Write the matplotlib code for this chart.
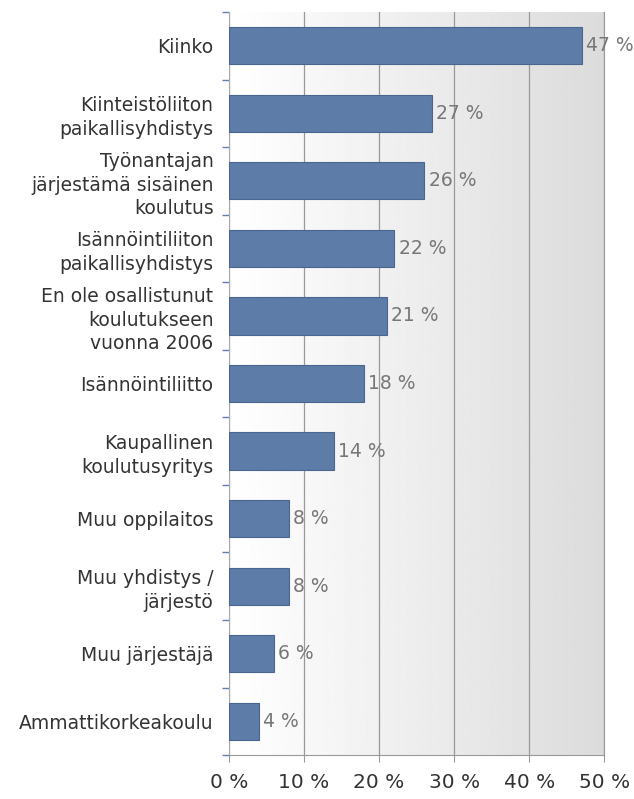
import numpy as np
import matplotlib.pyplot as plt

categories = ["Kiinko",
              "Kiinteistöliiton\npaikallisyhdistys",
              "Työnantajan\njärjestämä sisäinen\nkoulutus",
              "Isännöintiliiton\npaikallisyhdistys",
              "En ole osallistunut\nkoulutukseen\nvuonna 2006",
              "Isännöintiliitto",
              "Kaupallinen\nkoulutusyritys",
              "Muu oppilaitos",
              "Muu yhdistys /\njärjestö",
              "Muu järjestäjä",
              "Ammattikorkeakoulu"]
values = [47, 27, 26, 22, 21, 18, 14, 8, 8, 6, 4]
xticks = [0, 10, 20, 30, 40, 50]

fig = plt.figure(figsize=(6.34, 7.99), dpi=100)
ax = fig.add_axes([0.361, 0.055, 0.592, 0.930])

n = len(categories)
y = np.arange(n)

# background gradient white -> light grey
grad = np.linspace(1.0, 0.86, 256).reshape(1, -1)
ax.imshow(grad, cmap='gray', vmin=0, vmax=1, aspect='auto',
          extent=[0, 50, n - 0.5, -0.5], zorder=0)

ax.barh(y, values, height=0.55, color='#5D7DA8', edgecolor='#4A6690',
        linewidth=0.8, zorder=3)
for yi, v in zip(y, values):
    ax.text(v + 0.6, yi, f"{v} %", va='center', ha='left', fontsize=13.5,
            color='#777777', zorder=4)

ax.set_xlim(0, 50)
ax.set_ylim(n - 0.5, -0.5)
ax.set_xticks(xticks)
ax.set_xticklabels([f"{t} %" for t in xticks], fontsize=14.5, color='#333333')
ax.xaxis.grid(True, color='#999999', linewidth=0.9, zorder=1)

ax.set_yticks(y)
ax.set_yticklabels(categories, fontsize=13.5, color='#333333', linespacing=1.3)
ax.tick_params(axis='y', length=0, pad=11)
ax.set_yticks(np.arange(n + 1) - 0.5, minor=True)
ax.tick_params(axis='y', which='minor', length=5, color='#6080B0', width=1)
ax.tick_params(axis='x', length=5, color='#999999', pad=8)

ax.spines['top'].set_visible(False)
ax.spines['left'].set_color('#AAAAAA')
ax.spines['bottom'].set_color('#999999')
ax.spines['right'].set_color('#999999')

fig.savefig("out.png", dpi=100)
